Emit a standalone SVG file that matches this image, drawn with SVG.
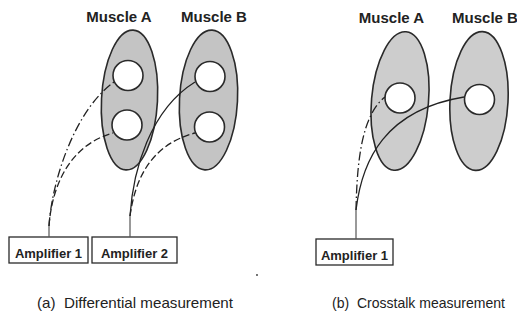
<svg xmlns="http://www.w3.org/2000/svg" width="517" height="322" viewBox="0 0 517 322">
<defs>
<style>
.lbl{font-family:"Liberation Sans",Arial,sans-serif;font-weight:bold;fill:#222}
.cap{font-family:"Liberation Sans",Arial,sans-serif;font-size:14.5px;fill:#222;white-space:pre}
.muscle{fill:#c4c4c4;stroke:#2a2a2a;stroke-width:1.6}
.muscle2{fill:#cdcdcd;stroke:#2a2a2a;stroke-width:1.6}
.elec{fill:#fff;stroke:#2a2a2a;stroke-width:1.6}
.box{fill:#fff;stroke:#2a2a2a;stroke-width:1.3}
.w{fill:none;stroke:#222;stroke-width:1.3}
.dd{stroke-dasharray:9 3 1.5 3}
.ds{stroke-dasharray:7 3}
.stem{fill:none;stroke:#555;stroke-width:1.2}
</style>
</defs>
<rect width="517" height="322" fill="#fff"/>

<g id="panel-a-muscle-a">
<ellipse class="muscle" cx="129.5" cy="100" rx="28" ry="70" transform="rotate(3 129.5 100)"/>
<text class="lbl" x="119" y="22" font-size="15" text-anchor="middle">Muscle A</text>
</g>
<g id="panel-a-muscle-b">
<ellipse class="muscle" cx="208.5" cy="100" rx="29" ry="70" transform="rotate(3 208.5 100)"/>
<text class="lbl" x="214" y="22" font-size="15" text-anchor="middle">Muscle B</text>
</g>
<g id="panel-a-electrode-a1"><circle class="elec" cx="128" cy="75.5" r="15"/></g>
<g id="panel-a-electrode-a2"><circle class="elec" cx="127" cy="125" r="15"/></g>
<g id="panel-a-electrode-b1"><circle class="elec" cx="210" cy="76.5" r="15"/></g>
<g id="panel-a-electrode-b2"><circle class="elec" cx="209.5" cy="127" r="15"/></g>

<g id="panel-a-amp1">
<rect class="box" x="9" y="237" width="79" height="26"/>
<text class="lbl" x="48.5" y="258" font-size="13" text-anchor="middle">Amplifier 1</text>
</g>
<g id="panel-a-amp2">
<rect class="box" x="92" y="237" width="85" height="26"/>
<text class="lbl" x="134.5" y="258" font-size="13" text-anchor="middle">Amplifier 2</text>
</g>

<g id="panel-b-muscle-a">
<ellipse class="muscle2" cx="400" cy="101" rx="28.5" ry="69.5" transform="rotate(5 400 101)"/>
<text class="lbl" x="391.5" y="23" font-size="15" text-anchor="middle">Muscle A</text>
</g>
<g id="panel-b-muscle-b">
<ellipse class="muscle2" cx="479" cy="101" rx="29" ry="69.5" transform="rotate(3 479 101)"/>
<text class="lbl" x="485" y="23" font-size="15" text-anchor="middle">Muscle B</text>
</g>
<g id="panel-b-electrode-a"><circle class="elec" cx="400" cy="98" r="15"/></g>
<g id="panel-b-electrode-b"><circle class="elec" cx="479.5" cy="99.5" r="15"/></g>
<g id="panel-b-amp1">
<rect class="box" x="316" y="239" width="77" height="26"/>
<text class="lbl" x="354.5" y="260" font-size="13" text-anchor="middle">Amplifier 1</text>
</g>

<g id="connectors">
<path class="stem" d="M49 237 V226"/>
<path class="w dd" d="M49 226 C52 180 75 110 114 82"/>
<path class="w ds" d="M49 226 C52 185 70 145 113 133"/>
<path class="stem" d="M130 237 V216"/>
<path class="w" d="M130 216 C133 170 150 110 195 82"/>
<path class="w ds" d="M130 216 C135 180 150 145 195 133"/>
<path class="stem" d="M356 239 V210"/>
<path class="w dd" d="M356 210 C357 160 362 115 385 97"/>
<path class="w" d="M356 210 C362 160 385 110 464 97"/>
</g>

<circle cx="257" cy="275" r="0.9" fill="#333"/>
<text class="cap" x="37" y="308" textLength="196" lengthAdjust="spacingAndGlyphs" xml:space="preserve">(a)  Differential measurement</text>
<text class="cap" x="332" y="308" textLength="173" lengthAdjust="spacingAndGlyphs" xml:space="preserve">(b)  Crosstalk measurement</text>
</svg>
